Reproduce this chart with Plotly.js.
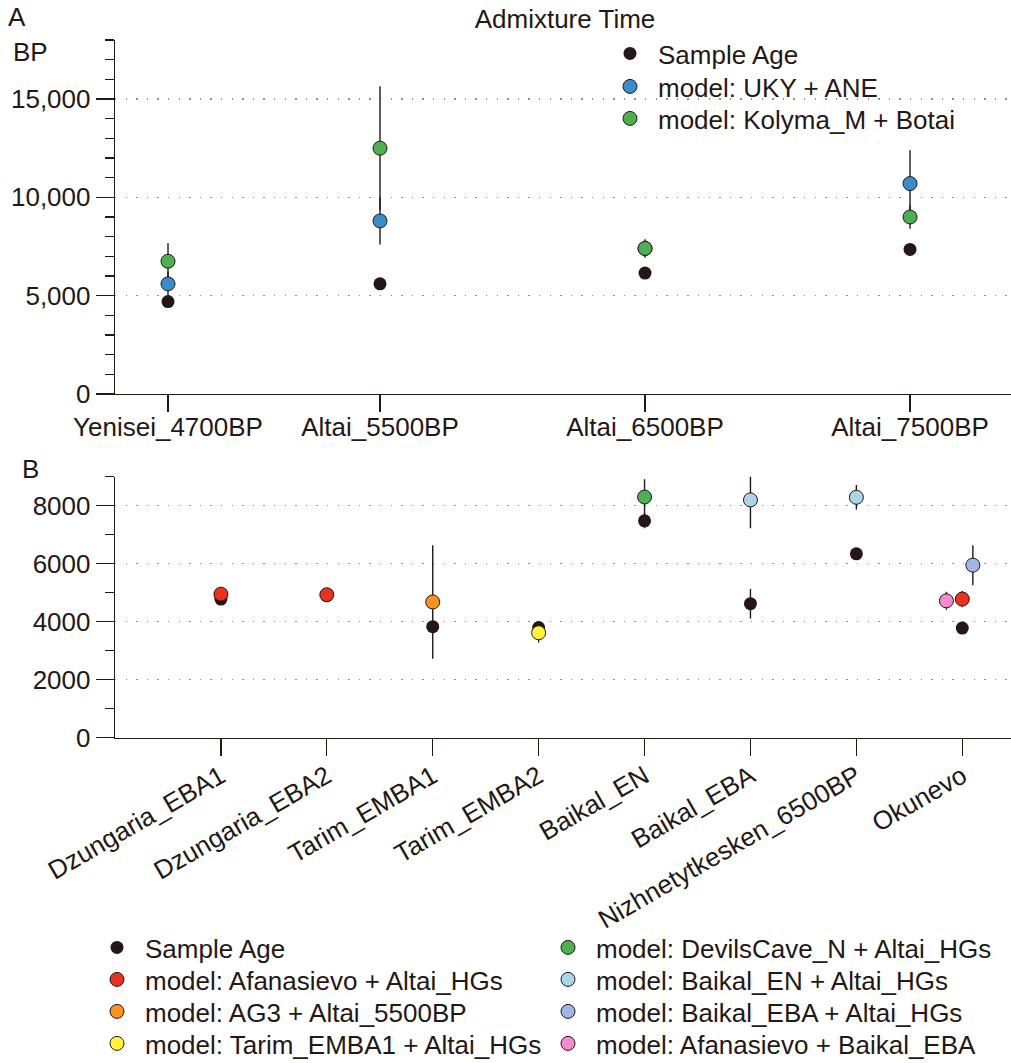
<!DOCTYPE html>
<html><head><meta charset="utf-8">
<script src="https://cdn.plot.ly/plotly-3.0.1.min.js"></script>
<style>html,body{margin:0;padding:0;background:#fff}#chart{width:1011px;height:1063px}</style>
</head><body><div id="chart"></div>
<script>
const INK = '#231815';
const FONT = 'Liberation Sans, Arial, Helvetica, sans-serif';

// ---------- Panel A data ----------
const popsA = ['Yenisei_4700BP', 'Altai_5500BP', 'Altai_6500BP', 'Altai_7500BP'];
const posA = [4700, 5500, 6500, 7500];
const sampleAgeA = [4700, 5600, 6150, 7350];
const ukyAne = [5600, 8800, 7400, 10700];
const ukyAneErr = [600, 1200, 400, 1700];
const kolymaBotai = [6750, 12500, 7400, 9000];
const kolymaBotaiErrPlus = [910, 3150, 470, 600];
const kolymaBotaiErrMinus = [800, 3150, 470, 600];

// ---------- Panel B data ----------
const popsB = ['Dzungaria_EBA1', 'Dzungaria_EBA2', 'Tarim_EMBA1', 'Tarim_EMBA2', 'Baikal_EN', 'Baikal_EBA', 'Nizhnetytkesken_6500BP', 'Okunevo'];
const sampleAgeB = [4780, 4900, 3830, 3800, 7480, 4620, 6340, 3780];
const sampleAgeBErr = [0, 0, 0, 0, 260, 510, 0, 0];

const afanHgsPops = ['Dzungaria_EBA1', 'Dzungaria_EBA2', 'Okunevo'];
const afanHgs = [4950, 4930, 4780];
const afanHgsErr = [0, 0, 280];

const ag3Pops = ['Tarim_EMBA1'];
const ag3 = [4680];
const ag3Err = [1960];

const tarimHgsPops = ['Tarim_EMBA2'];
const tarimHgs = [3620];
const tarimHgsErr = [340];

const devilsPops = ['Baikal_EN'];
const devils = [8300];
const devilsErr = [610];

const baikalEnPops = ['Baikal_EBA', 'Nizhnetytkesken_6500BP'];
const baikalEn = [8200, 8290];
const baikalEnErr = [980, 420];

const baikalEbaPops = ['Okunevo'];
const baikalEba = [5950];
const baikalEbaErr = [690];

const afanBaikalPops = ['Okunevo'];
const afanBaikal = [4720];
const afanBaikalErr = [310];

// ---------- helpers ----------
const W = 1011, H = 1063;
const px = v => v / W;
const py = v => 1 - v / H;
function err(plus, minus) {
  return {type: 'data', symmetric: false, array: plus, arrayminus: minus || plus,
          color: INK, thickness: 1.4, width: 0};
}
function mk(color, size) {
  return {color: color, size: size || 14, line: {color: INK, width: 1}};
}
const dot = {color: INK, size: 13, line: {width: 0}};
function xsB(pops, dodge) { return pops.map(p => popsB.indexOf(p) + (dodge || 0)); }

const traces = [
  // Panel A
  {x: posA, y: sampleAgeA, name: 'Sample Age', mode: 'markers', type: 'scatter',
   marker: dot, xaxis: 'x', yaxis: 'y', legend: 'legend'},
  {x: posA, y: ukyAne, name: 'model: UKY + ANE', mode: 'markers', type: 'scatter',
   marker: mk('#3A8DC8'), error_y: err(ukyAneErr), xaxis: 'x', yaxis: 'y', legend: 'legend2'},
  {x: posA, y: kolymaBotai, name: 'model: Kolyma_M + Botai', mode: 'markers', type: 'scatter',
   marker: mk('#4CB050'), error_y: err(kolymaBotaiErrPlus, kolymaBotaiErrMinus), xaxis: 'x', yaxis: 'y', legend: 'legend3'},

  // Panel B
  {x: xsB(popsB), y: sampleAgeB, name: 'Sample Age', mode: 'markers', type: 'scatter',
   marker: dot, error_y: err(sampleAgeBErr), xaxis: 'x2', yaxis: 'y2', legend: 'legend4'},
  {x: xsB(afanHgsPops), y: afanHgs, name: 'model: Afanasievo + Altai_HGs', mode: 'markers', type: 'scatter',
   marker: mk('#E8311F'), error_y: err(afanHgsErr), xaxis: 'x2', yaxis: 'y2', legend: 'legend5'},
  {x: xsB(ag3Pops), y: ag3, name: 'model: AG3 + Altai_5500BP', mode: 'markers', type: 'scatter',
   marker: mk('#F7931E'), error_y: err(ag3Err), xaxis: 'x2', yaxis: 'y2', legend: 'legend6'},
  {x: xsB(tarimHgsPops), y: tarimHgs, name: 'model: Tarim_EMBA1 + Altai_HGs', mode: 'markers', type: 'scatter',
   marker: mk('#FFF33B'), error_y: err(tarimHgsErr), xaxis: 'x2', yaxis: 'y2', legend: 'legend7'},
  {x: xsB(devilsPops), y: devils, name: 'model: DevilsCave_N + Altai_HGs', mode: 'markers', type: 'scatter',
   marker: mk('#4CB050'), error_y: err(devilsErr), xaxis: 'x2', yaxis: 'y2', legend: 'legend8'},
  {x: xsB(baikalEnPops), y: baikalEn, name: 'model: Baikal_EN + Altai_HGs', mode: 'markers', type: 'scatter',
   marker: mk('#A9D5E7'), error_y: err(baikalEnErr), xaxis: 'x2', yaxis: 'y2', legend: 'legend9'},
  {x: xsB(baikalEbaPops, 0.1), y: baikalEba, name: 'model: Baikal_EBA + Altai_HGs', mode: 'markers', type: 'scatter',
   marker: mk('#A2B4E8'), error_y: err(baikalEbaErr), xaxis: 'x2', yaxis: 'y2', legend: 'legend10'},
  {x: xsB(afanBaikalPops, -0.15), y: afanBaikal, name: 'model: Afanasievo + Baikal_EBA', mode: 'markers', type: 'scatter',
   marker: mk('#F58AD2'), error_y: err(afanBaikalErr), xaxis: 'x2', yaxis: 'y2', legend: 'legend11'}
];

const tf = {family: FONT, size: 26, color: INK};
const yCommon = {
  ticks: 'outside', ticklen: 18, tickwidth: 1.3, tickcolor: INK,
  showline: true, linecolor: INK, linewidth: 1.3, zeroline: false,
  showgrid: true, gridcolor: '#8f8f8f', gridwidth: 1.3, griddash: '1.3px,9.3px',
  minor: {dtick: 1000, ticks: 'outside', ticklen: 9, tickwidth: 1.3, tickcolor: INK, showgrid: false},
  tickfont: tf, fixedrange: true
};
const xCommon = {
  ticks: 'outside', ticklen: 17, tickwidth: 1.3, tickcolor: INK,
  showline: true, linecolor: INK, linewidth: 1.3, zeroline: false, showgrid: false,
  tickfont: tf, fixedrange: true
};
// one legend box per entry, so rows sit at the reference spacing
function leg(symX, rowY) {
  return {xref: 'container', yref: 'container', xanchor: 'left', yanchor: 'top',
          x: px(symX - 28), y: py(rowY - 25),
          font: tf, bgcolor: 'rgba(0,0,0,0)', borderwidth: 0, itemwidth: 46};
}

const layout = {
  width: W, height: H,
  paper_bgcolor: '#fff', plot_bgcolor: '#fff',
  margin: {l: 0, r: 0, t: 0, b: 0, pad: 0, autoexpand: false},
  font: tf,
  title: {text: 'Admixture Time', x: 565 / W, xanchor: 'center', xref: 'container',
          y: py(19), yanchor: 'middle', yref: 'container', font: tf},
  showlegend: true,
  xaxis: Object.assign({}, xCommon, {domain: [px(115), 1], range: [4500, 7881],
          tickmode: 'array', tickvals: posA, ticktext: popsA, anchor: 'y', ticklabelstandoff: -8}),
  yaxis: Object.assign({}, yCommon, {domain: [py(394), py(40)], range: [0, 18000],
          tick0: 0, dtick: 5000, tickformat: ',', anchor: 'x'}),
  xaxis2: Object.assign({}, xCommon, {domain: [px(115), 1], range: [-1, 7.46],
          tickmode: 'array', tickvals: popsB.map((p, i) => i), ticktext: popsB, tickangle: -30,
          anchor: 'y2', ticklabelstandoff: -5}),
  yaxis2: Object.assign({}, yCommon, {domain: [py(737.7), py(476.7)], range: [0, 9000],
          tick0: 0, dtick: 2000, tickformat: 'd', anchor: 'x2'}),
  legend: leg(630, 55),
  legend2: leg(630, 88),
  legend3: leg(630, 120),
  legend4: leg(117, 949),
  legend5: leg(117, 981),
  legend6: leg(117, 1013),
  legend7: leg(117, 1045),
  legend8: leg(568, 949),
  legend9: leg(568, 981),
  legend10: leg(568, 1013),
  legend11: leg(568, 1045),
  annotations: [
    {text: 'A', x: px(17), y: py(17), xref: 'paper', yref: 'paper', showarrow: false, xanchor: 'center', yanchor: 'middle', font: tf},
    {text: 'BP', x: px(30), y: py(52), xref: 'paper', yref: 'paper', showarrow: false, xanchor: 'center', yanchor: 'middle', font: tf},
    {text: 'B', x: px(30), y: py(469), xref: 'paper', yref: 'paper', showarrow: false, xanchor: 'center', yanchor: 'middle', font: tf}
  ]
};

Plotly.newPlot('chart', traces, layout, {staticPlot: true, displayModeBar: false});
</script>
</body></html>
